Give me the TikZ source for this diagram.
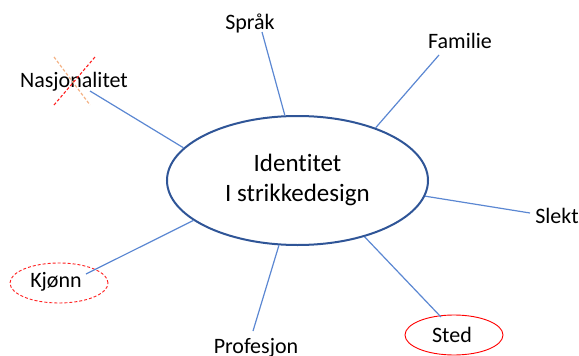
\documentclass[tikz,border=0pt]{standalone}
\usepackage{fontspec}
\setmainfont[Ligatures={NoCommon}]{Carlito}
\usetikzlibrary{shapes.geometric}
\definecolor{conn}{HTML}{5B87D2}
\definecolor{ellblue}{HTML}{2F5597}
\definecolor{crossorange}{HTML}{F4B183}
\definecolor{crossred}{HTML}{FF2020}
\tikzset{
  lbl/.style={font=\fontsize{22}{26}\selectfont, inner sep=0pt, anchor=base},
  hubtext/.style={font=\fontsize{25}{30}\selectfont, inner sep=0pt, anchor=base},
  connector/.style={draw=conn, line width=1.2pt},
  hub/.style={ellipse, draw=ellblue, line width=2pt, minimum width=261pt, minimum height=129pt, inner sep=0pt},
  redring/.style={ellipse, draw=red, line width=0.9pt, minimum width=98pt, minimum height=40pt, inner sep=0pt},
  crossline/.style={line width=1.2pt, dash pattern=on 3pt off 2pt},
}
\begin{document}
\begin{tikzpicture}[x=1pt,y=-1pt]
\useasboundingbox (0,0) rectangle (579,356);
% ring ellipses
\node[redring, draw=crossred, dash pattern=on 3pt off 2pt] (kjring) at (59,283) {};
\node[redring] (stedring) at (454,335) {};
% hub
\node[hub] (E) at (297.5,180.5) {};
\node[hubtext] (t1) at (297.5,171.7) {Identitet};
\node[hubtext] (t2) at (297.5,201.7) {I strikkedesign};
% labels
\node[lbl] (sprak) at (250,30) {Språk};
\node[lbl] (fam) at (460,48) {Familie};
\node[lbl] (nas) at (74,87) {Nasjonalitet};
\node[lbl] (slekt) at (557,223) {Slekt};
\node[lbl] (kj) at (56,287) {Kjønn};
\node[lbl] (sted) at (452,342) {Sted};
\node[lbl] (prof) at (256,353) {Profesjon};
% free ends
\coordinate (csp) at (262,32);
\coordinate (cfa) at (439,55);
\coordinate (cna) at (90,91);
\coordinate (csl) at (530,213);
\coordinate (ckj) at (86,274);
\coordinate (cst) at (441,317);
\coordinate (cpr) at (253,331);
\draw[connector] (E.101) -- (csp);
\draw[connector] (E.34) -- (cfa);
\draw[connector] (E.164) -- (cna);
\draw[connector] (E.-7.3) -- (csl);
\draw[connector] (E.201.5) -- (ckj);
\draw[connector] (E.-40.4) -- (cst);
\draw[connector] (E.254) -- (cpr);
% cross over Nasjonalitet
\coordinate (xa) at (54,57);
\coordinate (xb) at (90,105);
\coordinate (xc) at (54,105);
\coordinate (xd) at (95,57);
\draw[crossline, crossorange] (xa) -- (xb);
\draw[crossline, crossred, line width=1.1pt] (xc) -- (xd);
\end{tikzpicture}
\end{document}
